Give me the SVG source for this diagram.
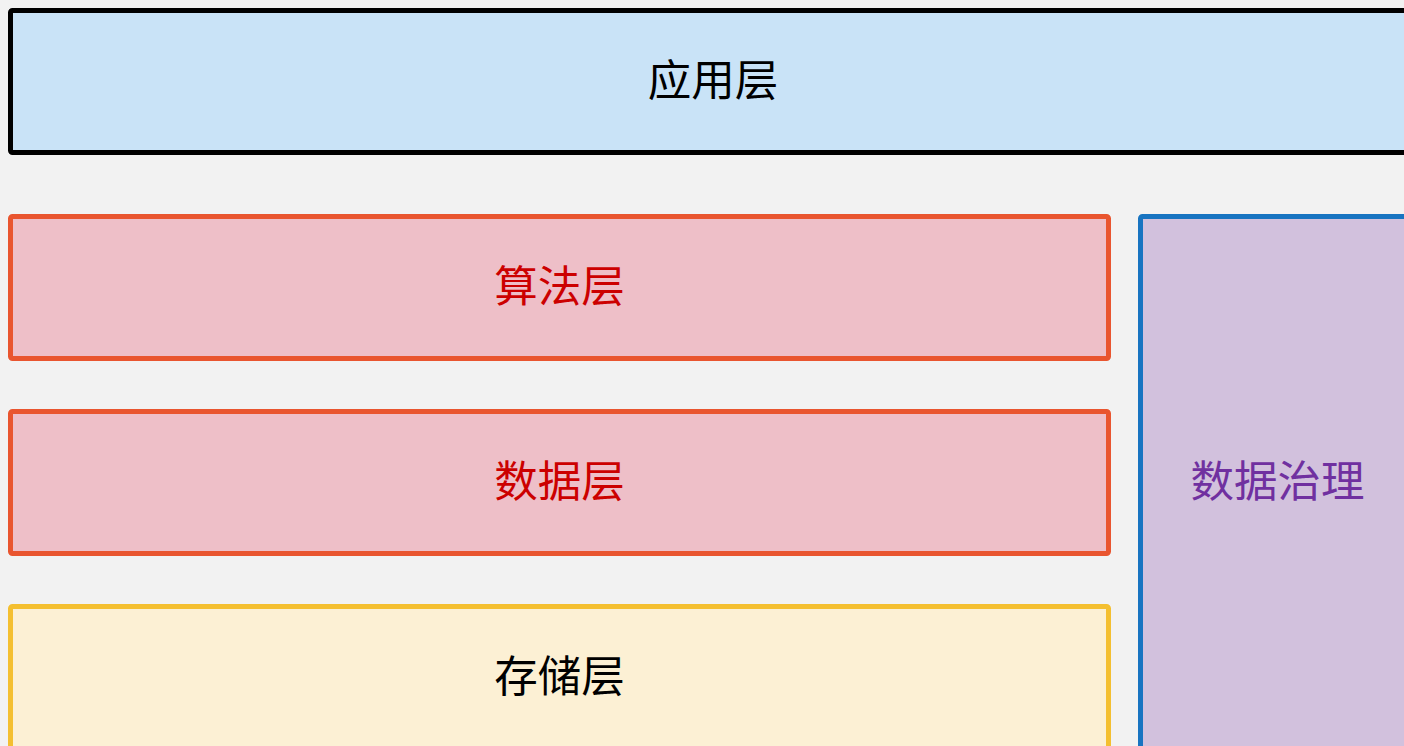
<svg xmlns="http://www.w3.org/2000/svg" width="1404" height="746" viewBox="0 0 1404 746">
<style>
.box{stroke-width:5}
.lbl{font-family:"Noto Sans CJK SC","Noto Sans",sans-serif;font-size:43.5px;text-anchor:middle;dominant-baseline:central}
</style>
<rect x="0" y="0" width="1404" height="746" fill="#f2f2f2"/>
<g id="app">
<rect class="box" x="10.5" y="10.5" width="1405" height="142" rx="2" fill="#c9e3f7" stroke="#000000"/>
<text class="lbl" x="713" y="77" fill="#000000">应用层</text>
</g>
<g id="algo">
<rect class="box" x="10.5" y="216.5" width="1098" height="142" rx="2" fill="#eebfc8" stroke="#e9552f"/>
<text class="lbl" x="559.5" y="283.5" fill="#cc0000">算法层</text>
</g>
<g id="data">
<rect class="box" x="10.5" y="411.5" width="1098" height="142" rx="2" fill="#eebfc8" stroke="#e9552f"/>
<text class="lbl" x="559.5" y="478.5" fill="#cc0000">数据层</text>
</g>
<g id="storage">
<rect class="box" x="10.5" y="606.5" width="1098" height="142" rx="2" fill="#fcf0d4" stroke="#f4bf30"/>
<text class="lbl" x="559.5" y="673.5" fill="#000000">存储层</text>
</g>
<g id="governance">
<rect class="box" x="1140.5" y="216.5" width="274" height="540" rx="2" fill="#d2c1dd" stroke="#1874c1"/>
<text class="lbl" x="1277.5" y="478.5" fill="#7030a0">数据治理</text>
</g>
<g id="connectors"></g>
</svg>
